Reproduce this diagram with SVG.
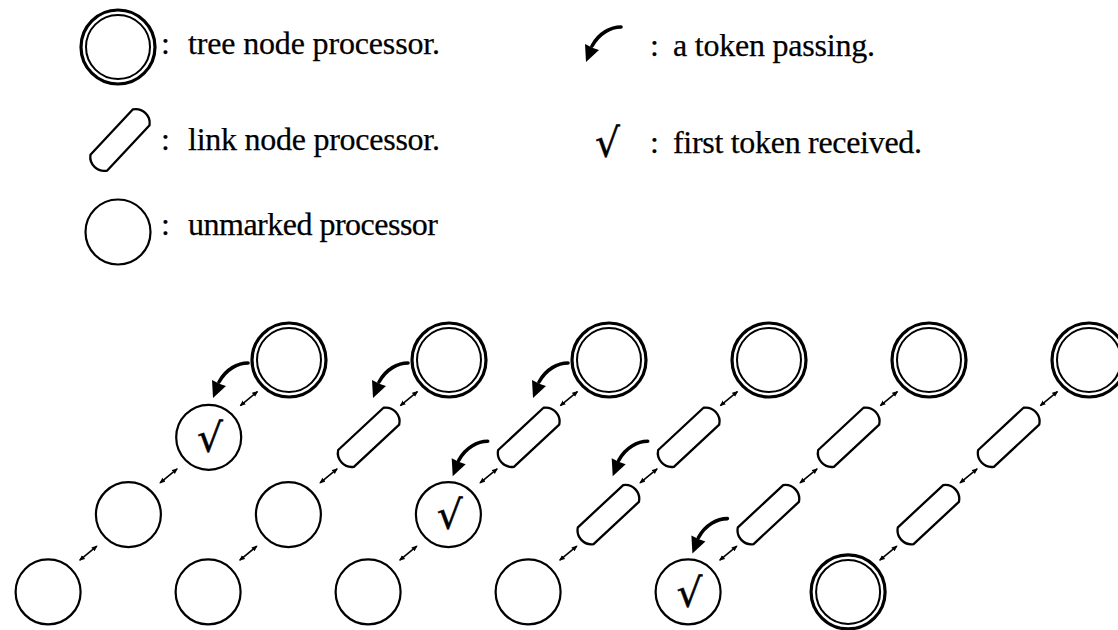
<svg xmlns="http://www.w3.org/2000/svg" xmlns:xlink="http://www.w3.org/1999/xlink" width="1118" height="630" viewBox="0 0 1118 630">
<style>
.t{font-family:"Liberation Serif","Times New Roman",serif;font-size:32px;fill:#000;stroke:#000;stroke-width:0.25}
.ck{font-family:"DejaVu Serif","Liberation Serif",serif;font-size:40px;fill:#000;stroke:#000;stroke-width:0.4}
.o{fill:none;stroke:#000}
.lnk{fill:none;stroke:#000;stroke-width:1.6;marker-start:url(#ah);marker-end:url(#ah)}
</style>
<defs>
<marker id="ah" viewBox="0 0 6 6" refX="5" refY="3" markerWidth="6" markerHeight="6" markerUnits="userSpaceOnUse" orient="auto-start-reverse">
<path d="M0 0.5 L6 3 L0 5.5 Z" fill="#000"/>
</marker>
<g id="dbl"><circle r="37" class="o" stroke-width="3.2"/><circle r="32" class="o" stroke-width="2"/></g>
<circle id="cir" r="32.5" class="o" stroke-width="2.2"/>
<path id="link" d="M-31 -11.5 L31 -11.5 A14 14 0 0 1 31 11.5 L-31 11.5 A14 14 0 0 1 -31 -11.5 Z" class="o" stroke-width="2.3" transform="rotate(-43)"/>
<g id="tok"><path d="M0 0 C-10 0 -22 6 -29 19" fill="none" stroke="#000" stroke-width="3.6" stroke-linecap="round"/><path d="M-36 17 L-35 35 L-22 23 Q-29 21 -36 17 Z" fill="#000"/></g>
</defs>

<g id="legend">
<g id="leg-tree"><use xlink:href="#dbl" x="118" y="47"/><text class="t" x="161" y="54">:<tspan x="188" textLength="252">tree node processor.</tspan></text></g>
<g id="leg-link"><use xlink:href="#link" x="120" y="140" transform="rotate(-4 120 140)"/><text class="t" x="161" y="150">:<tspan x="188" textLength="252">link node processor.</tspan></text></g>
<g id="leg-unmarked"><use xlink:href="#cir" x="118" y="232"/><text class="t" x="161" y="235">:<tspan x="188" textLength="250">unmarked processor</tspan></text></g>
<g id="leg-token"><use xlink:href="#tok" x="621" y="27"/><text class="t" x="650" y="56">:<tspan x="673" textLength="202">a token passing.</tspan></text></g>
<g id="leg-first"><text class="ck" x="595" y="157" textLength="25" lengthAdjust="spacingAndGlyphs">√</text><text class="t" x="650" y="153">:<tspan x="673" textLength="249">first token received.</tspan></text></g>
</g>

<g id="connectors">
<line class="lnk" x1="240.4" y1="405.6" x2="257.4" y2="391.6"/>
<line class="lnk" x1="160.1" y1="482.9" x2="177.1" y2="468.9"/>
<line class="lnk" x1="79.8" y1="560.2" x2="96.8" y2="546.2"/>
<line class="lnk" x1="400.4" y1="405.6" x2="417.4" y2="391.6"/>
<line class="lnk" x1="320.1" y1="482.9" x2="337.1" y2="468.9"/>
<line class="lnk" x1="239.8" y1="560.2" x2="256.8" y2="546.2"/>
<line class="lnk" x1="560.4" y1="405.6" x2="577.4" y2="391.6"/>
<line class="lnk" x1="480.1" y1="482.9" x2="497.1" y2="468.9"/>
<line class="lnk" x1="399.8" y1="560.2" x2="416.8" y2="546.2"/>
<line class="lnk" x1="720.4" y1="405.6" x2="737.4" y2="391.6"/>
<line class="lnk" x1="640.1" y1="482.9" x2="657.1" y2="468.9"/>
<line class="lnk" x1="559.8" y1="560.2" x2="576.8" y2="546.2"/>
<line class="lnk" x1="880.4" y1="405.6" x2="897.4" y2="391.6"/>
<line class="lnk" x1="800.1" y1="482.9" x2="817.1" y2="468.9"/>
<line class="lnk" x1="719.8" y1="560.2" x2="736.8" y2="546.2"/>
<line class="lnk" x1="1040.4" y1="405.6" x2="1057.4" y2="391.6"/>
<line class="lnk" x1="960.1" y1="482.9" x2="977.1" y2="468.9"/>
<line class="lnk" x1="879.8" y1="560.2" x2="896.8" y2="546.2"/>
<use xlink:href="#tok" x="248" y="363"/>
<use xlink:href="#tok" x="408" y="363"/>
<use xlink:href="#tok" x="568" y="363"/>
<use xlink:href="#tok" x="487.7" y="441.3"/>
<use xlink:href="#tok" x="647.7" y="441.3"/>
<use xlink:href="#tok" x="727.4" y="518.6"/>
</g>

<g id="c1">
<g id="c1n0"><use xlink:href="#dbl" x="289" y="360"/></g>
<g id="c1n1"><use xlink:href="#cir" x="208.7" y="437.3"/><text class="ck" x="197" y="452" textLength="26" lengthAdjust="spacingAndGlyphs">√</text></g>
<g id="c1n2"><use xlink:href="#cir" x="128.4" y="514.6"/></g>
<g id="c1n3"><use xlink:href="#cir" x="48.1" y="591.9"/></g>
</g>
<g id="c2">
<g id="c2n0"><use xlink:href="#dbl" x="449" y="360"/></g>
<g id="c2n1"><use xlink:href="#link" x="368.7" y="437.3"/></g>
<g id="c2n2"><use xlink:href="#cir" x="288.4" y="514.6"/></g>
<g id="c2n3"><use xlink:href="#cir" x="208.1" y="591.9"/></g>
</g>
<g id="c3">
<g id="c3n0"><use xlink:href="#dbl" x="609" y="360"/></g>
<g id="c3n1"><use xlink:href="#link" x="528.7" y="437.3"/></g>
<g id="c3n2"><use xlink:href="#cir" x="448.4" y="514.6"/><text class="ck" x="436.7" y="529.3" textLength="26" lengthAdjust="spacingAndGlyphs">√</text></g>
<g id="c3n3"><use xlink:href="#cir" x="368.1" y="591.9"/></g>
</g>
<g id="c4">
<g id="c4n0"><use xlink:href="#dbl" x="769" y="360"/></g>
<g id="c4n1"><use xlink:href="#link" x="688.7" y="437.3"/></g>
<g id="c4n2"><use xlink:href="#link" x="608.4" y="514.6"/></g>
<g id="c4n3"><use xlink:href="#cir" x="528.1" y="591.9"/></g>
</g>
<g id="c5">
<g id="c5n0"><use xlink:href="#dbl" x="929" y="360"/></g>
<g id="c5n1"><use xlink:href="#link" x="848.7" y="437.3"/></g>
<g id="c5n2"><use xlink:href="#link" x="768.4" y="514.6"/></g>
<g id="c5n3"><use xlink:href="#cir" x="688.1" y="591.9"/><text class="ck" x="676.4" y="606.6" textLength="26" lengthAdjust="spacingAndGlyphs">√</text></g>
</g>
<g id="c6">
<g id="c6n0"><use xlink:href="#dbl" x="1089" y="360"/></g>
<g id="c6n1"><use xlink:href="#link" x="1008.7" y="437.3"/></g>
<g id="c6n2"><use xlink:href="#link" x="928.4" y="514.6"/></g>
<g id="c6n3"><use xlink:href="#dbl" x="848.1" y="591.9"/></g>
</g>
</svg>
